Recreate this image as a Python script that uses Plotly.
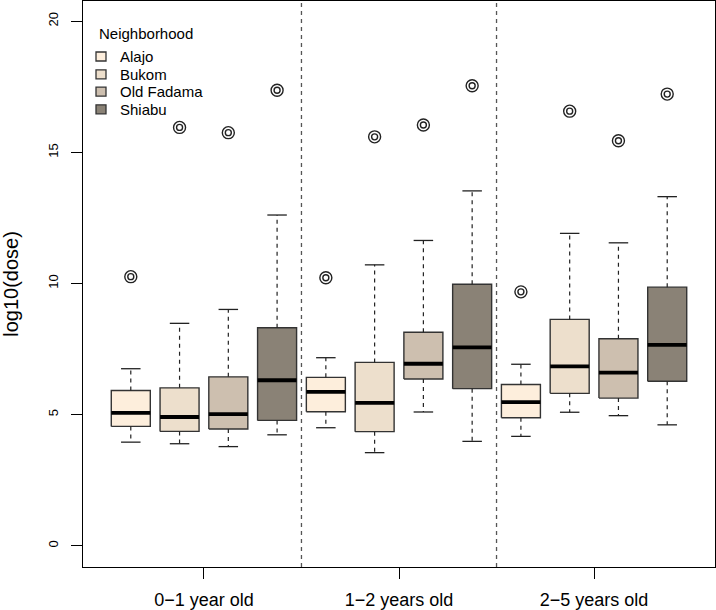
import plotly.graph_objects as go

age_groups = ["0\u22121 year old", "1\u22122 years old", "2\u22125 years old"]
neighborhoods = ["Alajo", "Bukom", "Old Fadama", "Shiabu"]
fill_colors = ["#FDEEDC", "#EDDFCC", "#CDBFAF", "#8A8276"]

# values per neighborhood, one per age group (0-1, 1-2, 2-5)
lower_whisker = {
    "Alajo": [3.95, 4.50, 4.17],
    "Bukom": [3.89, 3.55, 5.09],
    "Old Fadama": [3.78, 5.10, 4.96],
    "Shiabu": [4.23, 3.98, 4.61],
}
q1 = {
    "Alajo": [4.55, 5.11, 4.88],
    "Bukom": [4.36, 4.35, 5.81],
    "Old Fadama": [4.45, 6.36, 5.63],
    "Shiabu": [4.78, 5.99, 6.27],
}
median = {
    "Alajo": [5.07, 5.87, 5.48],
    "Bukom": [4.91, 5.45, 6.84],
    "Old Fadama": [5.02, 6.94, 6.60],
    "Shiabu": [6.31, 7.56, 7.66],
}
q3 = {
    "Alajo": [5.92, 6.42, 6.15],
    "Bukom": [6.02, 6.99, 8.63],
    "Old Fadama": [6.44, 8.14, 7.89],
    "Shiabu": [8.31, 9.97, 9.86],
}
upper_whisker = {
    "Alajo": [6.75, 7.17, 6.92],
    "Bukom": [8.48, 10.71, 11.91],
    "Old Fadama": [9.01, 11.64, 11.55],
    "Shiabu": [12.61, 13.53, 13.31],
}
outliers = {
    "Alajo": [10.26, 10.22, 9.68],
    "Bukom": [15.95, 15.59, 16.57],
    "Old Fadama": [15.75, 16.04, 15.44],
    "Shiabu": [17.37, 17.54, 17.22],
}

W, H = 716, 610
ML, MR, MT, MB = 83, 1, 1, 43
PW, PH = W - ML - MR, H - MT - MB

def px_to_paper_x(px):
    return (px - ML) / PW

def px_to_paper_y(py):
    return (H - MB - py) / PH

n_nb = len(neighborhoods)
half_w = 0.4
cap_w = 0.2
edge = "#333333"

fig = go.Figure()

wx, wy, cx, cy, ox, oy = [], [], [], [], [], []
for ni, nb in enumerate(neighborhoods):
    bx, by, mx, my = [], [], [], []
    for gi in range(len(age_groups)):
        p = gi * n_nb + ni + 1
        bx += [p - half_w, p + half_w, p + half_w, p - half_w, p - half_w, None]
        by += [q1[nb][gi], q1[nb][gi], q3[nb][gi], q3[nb][gi], q1[nb][gi], None]
        mx += [p - half_w, p + half_w, None]
        my += [median[nb][gi], median[nb][gi], None]
        wx += [p, p, None, p, p, None]
        wy += [q3[nb][gi], upper_whisker[nb][gi], None, q1[nb][gi], lower_whisker[nb][gi], None]
        cx += [p - cap_w, p + cap_w, None, p - cap_w, p + cap_w, None]
        cy += [upper_whisker[nb][gi], upper_whisker[nb][gi], None,
               lower_whisker[nb][gi], lower_whisker[nb][gi], None]
        ox.append(p)
        oy.append(outliers[nb][gi])
    fig.add_trace(go.Scatter(x=bx, y=by, mode="lines", fill="toself",
                             fillcolor=fill_colors[ni], line=dict(color=edge, width=1.4),
                             showlegend=False, hoverinfo="skip"))
    fig.add_trace(go.Scatter(x=mx, y=my, mode="lines",
                             line=dict(color="black", width=3.8),
                             showlegend=False, hoverinfo="skip"))

fig.add_trace(go.Scatter(x=wx, y=wy, mode="lines",
                         line=dict(color="#222222", width=1.2, dash="4px,4px"),
                         showlegend=False, hoverinfo="skip"))
fig.add_trace(go.Scatter(x=cx, y=cy, mode="lines",
                         line=dict(color="#222222", width=1.3),
                         showlegend=False, hoverinfo="skip"))
fig.add_trace(go.Scatter(x=ox, y=oy, mode="markers",
                         marker=dict(symbol="circle-open", size=12, color="#222222",
                                     line=dict(width=1.4, color="#222222")),
                         showlegend=False))
fig.add_trace(go.Scatter(x=ox, y=oy, mode="markers",
                         marker=dict(symbol="circle-open", size=6, color="#222222",
                                     line=dict(width=1.4, color="#222222")),
                         showlegend=False))

# vertical dashed separators between age groups
for gi in range(1, len(age_groups)):
    fig.add_shape(type="line", xref="x", yref="paper",
                  x0=gi * n_nb + 0.5, x1=gi * n_nb + 0.5, y0=0, y1=1,
                  line=dict(color="#555555", width=1.3, dash="4px,4px"))

# manual legend (R style)
fig.add_annotation(x=px_to_paper_x(97), y=px_to_paper_y(34), xref="paper", yref="paper",
                   text="Neighborhood", showarrow=False, xanchor="left", yanchor="middle",
                   font=dict(size=15))
row_y = [56.5, 74.3, 91.7, 109.3]
for ni, nb in enumerate(neighborhoods):
    yc = row_y[ni]
    fig.add_shape(type="rect", xref="paper", yref="paper",
                  x0=px_to_paper_x(96), x1=px_to_paper_x(106),
                  y0=px_to_paper_y(yc + 4.5), y1=px_to_paper_y(yc - 4.5),
                  fillcolor=fill_colors[ni], line=dict(color=edge, width=1.3))
    fig.add_annotation(x=px_to_paper_x(118), y=px_to_paper_y(yc), xref="paper", yref="paper",
                       text=nb, showarrow=False, xanchor="left", yanchor="middle",
                       font=dict(size=15))

tick_pos = [gi * n_nb + (n_nb + 1) / 2 for gi in range(len(age_groups))]

fig.update_layout(
    width=W, height=H,
    margin=dict(l=ML, r=MR, t=MT, b=MB),
    paper_bgcolor="white", plot_bgcolor="white",
    font=dict(family="Liberation Sans, Arial, sans-serif", color="black"),
    showlegend=False,
    xaxis=dict(range=[0.02, 12.98], tickvals=tick_pos, ticktext=age_groups,
               showgrid=False, zeroline=False, showline=True, mirror=True,
               linecolor="black", linewidth=1.2, ticks="outside", ticklen=11,
               tickcolor="black", tickfont=dict(size=18), automargin=False,
               ticklabelstandoff=5),
    yaxis=dict(range=[-0.81, 20.77], tickvals=[0, 5, 10, 15, 20],
               showgrid=False, zeroline=False, showline=True, mirror=True,
               linecolor="black", linewidth=1.2, ticks="outside", ticklen=11,
               tickcolor="black", tickangle=-90, tickfont=dict(size=13),
               automargin=False, ticklabelstandoff=8,
               title=dict(text="log10(dose)", font=dict(size=20), standoff=24)),
)

fig.write_html("out.html", config={"displayModeBar": False},
               post_script="document.body.style.margin='0';")
